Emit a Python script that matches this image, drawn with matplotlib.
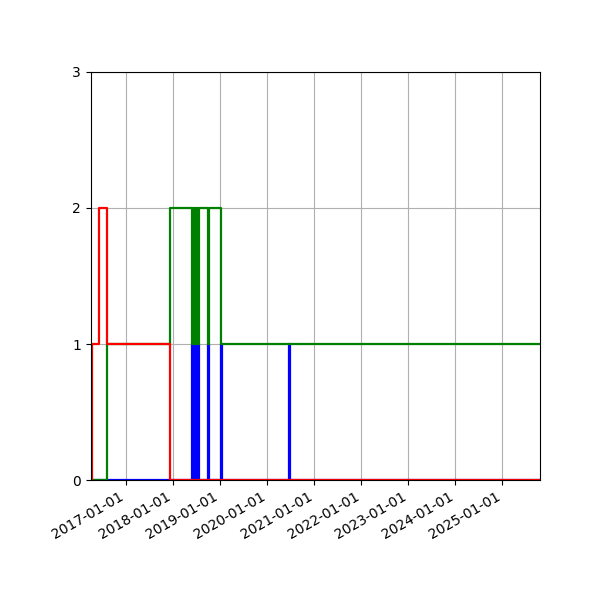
import matplotlib
matplotlib.use("Agg")
import matplotlib.pyplot as plt
import matplotlib.dates as mdates
import pandas as pd

dates = ["2016-03-29", "2016-04-08", "2016-05-30", "2016-08-06", "2017-12-06",
         "2018-05-29", "2018-06-05", "2018-06-12", "2018-06-19", "2018-06-26",
         "2018-07-03", "2018-07-10", "2018-07-17", "2018-09-25", "2018-10-07",
         "2019-01-06", "2019-01-11", "2020-06-19", "2020-06-25", "2025-10-20"]
red =   [0, 1, 2, 1, 0, 0, 0, 0, 0, 0, 0, 0, 0, 0, 0, 0, 0, 0, 0, 0]
green = [0, 0, 0, 1, 2, 1, 2, 1, 2, 1, 2, 1, 2, 1, 2, 1, 1, 1, 1, 1]
blue =  [0, 0, 0, 0, 0, 1, 0, 1, 0, 1, 0, 1, 0, 1, 0, 1, 0, 1, 0, 0]
yticks = [0, 1, 2, 3]

t = pd.to_datetime(dates)

fig = plt.figure(figsize=(6, 6), dpi=100)
ax = fig.add_axes([0.151, 0.2, 0.749, 0.68])
ax.step(t, blue, where="post", color="b", lw=1.6)
ax.step(t, green, where="post", color="g", lw=1.6)
ax.step(t, red, where="post", color="r", lw=1.6)
ax.set_xlim(t[0], t[-1])
ax.set_ylim(0, 3)
ax.set_yticks(yticks)
ax.xaxis.set_major_locator(mdates.YearLocator())
ax.xaxis.set_major_formatter(mdates.DateFormatter("%Y-%m-%d"))
ax.grid(True)
for lbl in ax.get_xticklabels():
    lbl.set_rotation(30)
    lbl.set_ha("right")
fig.savefig("out.png", dpi=100)
